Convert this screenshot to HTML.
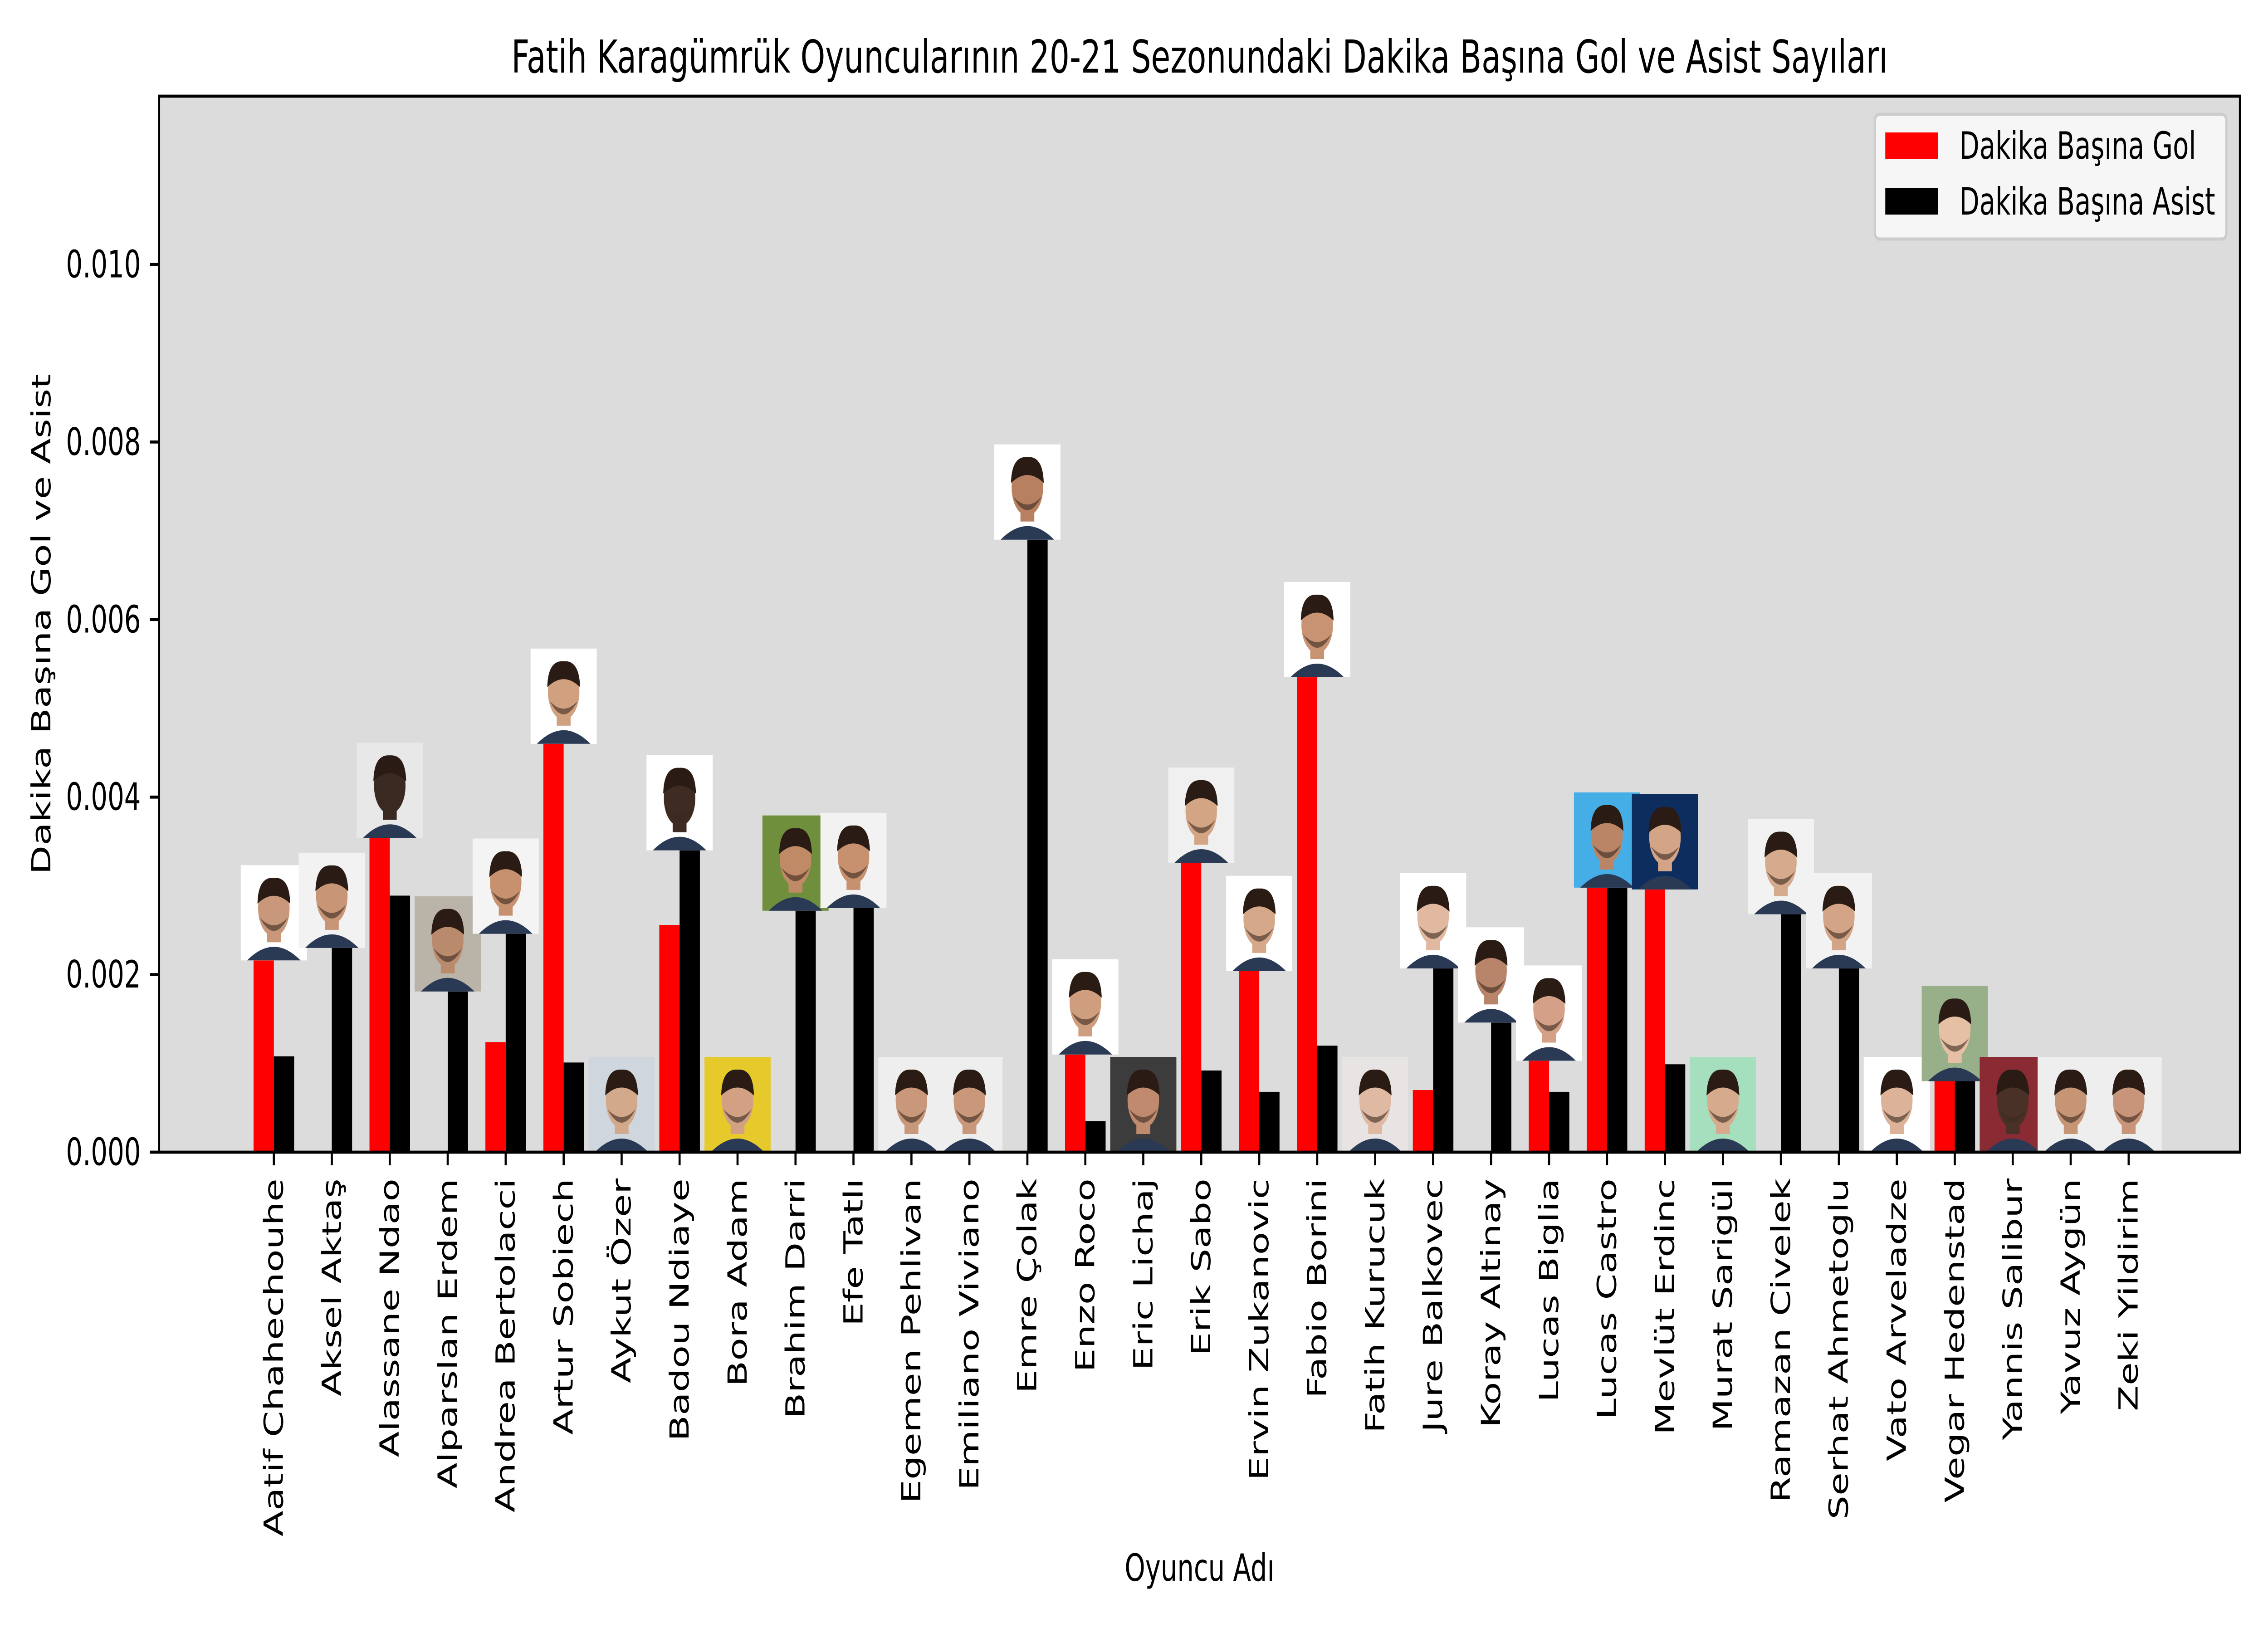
<!DOCTYPE html>
<html><head><meta charset="utf-8"><style>
html,body{margin:0;padding:0;background:#fff;width:100%;height:100%;overflow:hidden;}
svg{display:block;width:100vw;height:100vh;font-family:"DejaVu Sans","Liberation Sans",sans-serif;}
</style></head><body>
<svg id="chart" viewBox="0 0 7200 3600" preserveAspectRatio="none" xmlns="http://www.w3.org/2000/svg">
<rect x="505" y="212" width="6606" height="2328" fill="#dcdcdc"/>
<g id="bars"></g>
<g id="photos"></g>
<g id="yaxis"></g>
<g id="xaxis"></g>
<rect x="505" y="212" width="6606" height="2328" fill="none" stroke="#000" stroke-width="6.7"/>
<text x="3808" y="160" font-size="100" text-anchor="middle">Fatih Karagümrük Oyuncularının 20-21 Sezonundaki Dakika Başına Gol ve Asist Sayıları</text>
<text transform="translate(160,1376) rotate(-90)" font-size="83" text-anchor="middle">Dakika Başına Gol ve Asist</text>
<text x="3808" y="3485" font-size="83" text-anchor="middle">Oyuncu Adı</text>
<g>
<rect x="5952" y="252" width="1116" height="275" rx="14" fill="#f6f6f6" stroke="#cccccc" stroke-width="7"/>
<rect x="5985" y="292" width="167" height="58" fill="#ff0000"/>
<text x="6220" y="350" font-size="83">Dakika Başına Gol</text>
<rect x="5985" y="415" width="167" height="58" fill="#000"/>
<text x="6220" y="473" font-size="83">Dakika Başına Asist</text>
</g>
</svg>
<script>
const players = ["Aatif Chahechouhe","Aksel Aktaş","Alassane Ndao","Alparslan Erdem","Andrea Bertolacci","Artur Sobiech","Aykut Özer","Badou Ndiaye","Bora Adam","Brahim Darri","Efe Tatlı","Egemen Pehlivan","Emiliano Viviano","Emre Çolak","Enzo Roco","Eric Lichaj","Erik Sabo","Ervin Zukanovic","Fabio Borini","Fatih Kurucuk","Jure Balkovec","Koray Altinay","Lucas Biglia","Lucas Castro","Mevlüt Erdinc","Murat Sarigül","Ramazan Civelek","Serhat Ahmetoglu","Vato Arveladze","Vegar Hedenstad","Yannis Salibur","Yavuz Aygün","Zeki Yildirim"];
const goalsPerMin = [0.00216,0,0.00354,0,0.00124,0.0046,0,0.00256,0,0,0,0,0,0,0.0011,0,0.00326,0.00204,0.00535,0,0.0007,0,0.00103,0.00298,0.00296,0,0,0,0,0.0008,0,0,0];
const assistsPerMin = [0.00108,0.0023,0.00289,0.00181,0.00246,0.00101,0,0.0034,0,0.00272,0.00275,0,0,0.0069,0.00035,0,0.00092,0.00068,0.0012,0,0.00207,0.00146,0.00068,0.00298,0.00099,0,0.00268,0.00207,0,0.0008,0,0,0];
const yTicks = [0,0.002,0.004,0.006,0.008,0.010];
const yTickLabels = ["0.000","0.002","0.004","0.006","0.008","0.010"];
const photoBg = ["#ffffff","#f2f2f2","#e8e8e8","#b9b3a8","#f4f4f4","#ffffff","#cfd6de","#ffffff","#e6c92a","#6f8f3c","#f2f2f2","#eeeeee","#eeeeee","#ffffff","#ffffff","#3c3c3c","#f0f0f0","#ffffff","#ffffff","#e9e4e4","#ffffff","#ffffff","#ffffff","#46aee6","#0d2d5e","#a6dfbd","#f2f2f2","#f2f2f2","#ffffff","#98b08a","#8a2b33","#eeeeee","#eeeeee"];
const skin = ["#c9987a","#c89576","#3b2a22","#b98a6c","#c7916f","#d1a07f","#d3a98c","#3e2b22","#d2a184","#c08a66","#c7916f","#c9977a","#c9977a","#b78161","#cf9e7e","#c08a6e","#d4a584","#d6a88a","#c79373","#e0b9a3","#e1b8a0","#b9856a","#d4a088","#b98566","#d3a485","#d6aa8c","#d6aa8c","#d3a485","#dcb399","#e5c0a4","#4a3128","#c69576","#c8957a"];

const X0=505, X1=7111, Y0=2540, YT=212, XMIN=-1.98, XMAX=33.92, YMAX=0.011896;
function xs(i){return X0+(i-XMIN)/(XMAX-XMIN)*(X1-X0);}
function ys(v){return Y0-v/YMAX*(Y0-YT);}
const NS="http://www.w3.org/2000/svg";
function mk(tag,attrs,parent){const e=document.createElementNS(NS,tag);for(const k in attrs)e.setAttribute(k,attrs[k]);parent.appendChild(e);return e;}
const u=(X1-X0)/(XMAX-XMIN), bw=0.35*u;
const gb=document.getElementById('bars'), gp=document.getElementById('photos');
const gx=document.getElementById('xaxis'), gy=document.getElementById('yaxis');
players.forEach((p,i)=>{
  const cx=xs(i);
  const r=mk('rect',{x:cx-bw,y:ys(goalsPerMin[i]),width:bw,height:Y0-ys(goalsPerMin[i]),fill:'#ff0000'},gb);
  
  
  const b=mk('rect',{x:cx,y:ys(assistsPerMin[i]),width:bw,height:Y0-ys(assistsPerMin[i]),fill:'#000000'},gb);
  
  
  const top=ys(Math.max(goalsPerMin[i],assistsPerMin[i]));
  const s=210, px=cx-s/2, py=top-s;
  const g=mk('g',{},gp);
  
  
  mk('rect',{x:px,y:py,width:s,height:s,fill:photoBg[i]},g);
  mk('path',{d:`M${px+20} ${py+s} Q${cx} ${py+150} ${px+s-20} ${py+s} Z`,fill:'#2a3a55'},g);
  mk('rect',{x:cx-22,y:py+125,width:44,height:45,fill:skin[i]},g);
  mk('ellipse',{cx:cx,cy:py+95,rx:50,ry:62,fill:skin[i]},g);
  mk('path',{d:`M${cx-52} ${py+85} Q${cx-50} ${py+25} ${cx} ${py+28} Q${cx+50} ${py+25} ${cx+52} ${py+85} Q${cx} ${py+50} ${cx-52} ${py+85} Z`,fill:'#2a1c14'},g);
  mk('path',{d:`M${cx-45} ${py+115} Q${cx} ${py+175} ${cx+45} ${py+115} Q${cx} ${py+150} ${cx-45} ${py+115} Z`,fill:'#3a2a20',opacity:'0.6'},g);
  const t=mk('line',{x1:cx,x2:cx,y1:Y0,y2:Y0+29,stroke:'#000','stroke-width':6.7},gx);
  
  
  const tl=mk('text',{transform:`translate(${cx},${Y0+58}) rotate(-90)`,'font-size':83,'text-anchor':'end','dominant-baseline':'central'},gx);
  tl.textContent=p;
  
  
});
yTicks.forEach((v,j)=>{
  const y=ys(v);
  const t=mk('line',{x1:X0-29,x2:X0,y1:y,y2:y,stroke:'#000','stroke-width':6.7},gy);
  
  
  const tl=mk('text',{x:X0-58,y:y,'font-size':83,'text-anchor':'end','dominant-baseline':'central'},gy);
  tl.textContent=yTickLabels[j];
  
  
});
</script>
</body></html>
